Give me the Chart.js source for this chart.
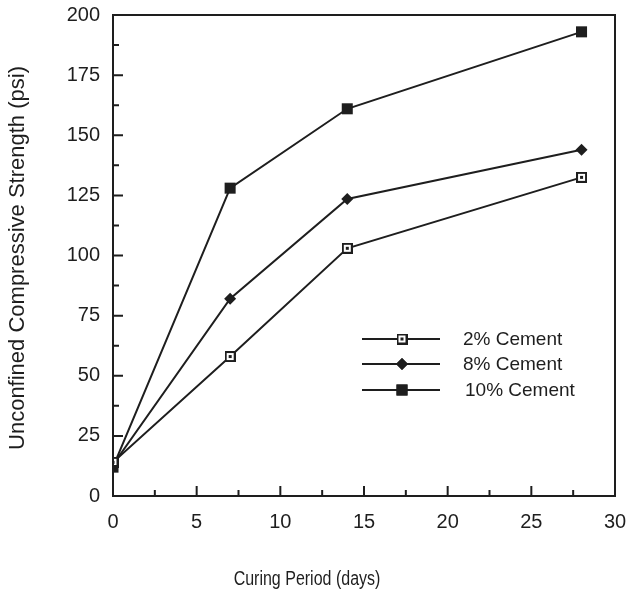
<!DOCTYPE html>
<html>
<head>
<meta charset="utf-8">
<script src="https://cdn.jsdelivr.net/npm/chart.js@4"></script>
<style>
  html, body { margin: 0; padding: 0; background: #fff; }
  #wrap { width: 626px; height: 595px; }
</style>
</head>
<body>
<div id="wrap"><canvas id="strength-chart"></canvas></div>
<script>
// =======================
// Data
// =======================
const days = [0, 7, 14, 28];
const cement2 = [14, 58, 103, 132.5];
const cement8 = [13, 82, 123.5, 144];
const cement10 = [12, 128, 161, 193];
const seriesNames = ["2% Cement", "8% Cement", "10% Cement"];
const yTicks = [0, 25, 50, 75, 100, 125, 150, 175, 200];
const xTicks = [0, 5, 10, 15, 20, 25, 30];

const ink = '#1e1e1e';
const font = "'Liberation Sans', Arial, sans-serif";

// open square with a dot in it
const openSquare = document.createElement('canvas');
openSquare.width = 11;
openSquare.height = 11;
(function () {
    const c = openSquare.getContext('2d');
    c.fillStyle = ink;
    c.fillRect(0, 0, 11, 11);
    c.fillStyle = '#fff';
    c.fillRect(2, 2, 7, 7);
    c.fillStyle = ink;
    c.fillRect(4, 4, 3, 3);
})();

const toPoints = vals => vals.map((v, i) => ({ x: days[i], y: v }));

// =======================
// Box, inward ticks, legend, titles
// =======================
const framePlugin = {
    id: 'frame',
    afterDraw(chart) {
        const ctx = chart.ctx;
        const a = chart.chartArea;
        const xs = chart.scales.x;
        const ys = chart.scales.y;
        ctx.save();
        ctx.strokeStyle = ink;
        ctx.lineWidth = 2;
        ctx.strokeRect(a.left, a.top, a.right - a.left, a.bottom - a.top);

        ctx.beginPath();
        for (let v = 2.5; v < 30; v += 2.5) {
            const px = xs.getPixelForValue(v);
            const len = v % 5 === 0 ? 10 : 6;
            ctx.moveTo(px, a.bottom);
            ctx.lineTo(px, a.bottom - len);
        }
        for (let v = 12.5; v < 200; v += 12.5) {
            const py = ys.getPixelForValue(v);
            const len = v % 25 === 0 ? 10 : 6;
            ctx.moveTo(a.left, py);
            ctx.lineTo(a.left + len, py);
        }
        ctx.stroke();

        // legend
        const rows = [339, 364, 390];
        chart.data.datasets.forEach((ds, i) => {
            const y = rows[i];
            ctx.strokeStyle = ink;
            ctx.lineWidth = 2;
            ctx.beginPath();
            ctx.moveTo(362, y);
            ctx.lineTo(440, y);
            ctx.stroke();
            const style = ds.pointStyle;
            if (style instanceof HTMLCanvasElement) {
                ctx.drawImage(style, 402 - 5.5, y - 5.5);
            } else {
                Chart.helpers.drawPoint(ctx, {
                    pointStyle: style,
                    radius: ds.pointRadius,
                    rotation: 0,
                    borderWidth: 0
                }, 402, y);
                ctx.fillStyle = ink;
                ctx.fill();
            }
            ctx.fillStyle = ink;
            ctx.font = '19px ' + font;
            ctx.textBaseline = 'middle';
            ctx.textAlign = 'left';
            ctx.fillText(ds.label, i === 2 ? 465 : 463, y + 1);
        });

        // x title, drawn a little narrow like the scan
        ctx.save();
        ctx.translate(307, 579);
        ctx.scale(0.8, 1);
        ctx.font = '20px ' + font;
        ctx.textAlign = 'center';
        ctx.textBaseline = 'middle';
        ctx.fillText('Curing Period (days)', 0, 0);
        ctx.restore();

        // y title
        ctx.save();
        ctx.translate(18, 258);
        ctx.rotate(-Math.PI / 2);
        ctx.font = '22px ' + font;
        ctx.textAlign = 'center';
        ctx.textBaseline = 'middle';
        ctx.fillText('Unconfined Compressive Strength (psi)', 0, 0);
        ctx.restore();

        ctx.restore();
    }
};

// =======================
// Chart
// =======================
const strengthCanvas = document.querySelector('#strength-chart');
const lineStyle = {
    borderColor: ink,
    backgroundColor: ink,
    borderWidth: 2,
    tension: 0,
    fill: false,
    pointBorderWidth: 0
};

const noPad = s => {
    s.paddingLeft = 0;
    s.paddingRight = 0;
    s.paddingTop = 0;
    s.paddingBottom = 0;
};

let strengthChart = new Chart(strengthCanvas, {
    type: 'line',
    data: {
        datasets: [
            Object.assign({ label: seriesNames[0], data: toPoints(cement2), pointStyle: openSquare, pointRadius: 5.5 }, lineStyle),
            Object.assign({ label: seriesNames[1], data: toPoints(cement8), pointStyle: 'rectRot', pointRadius: 6 }, lineStyle),
            Object.assign({ label: seriesNames[2], data: toPoints(cement10), pointStyle: 'rect', pointRadius: 7.8 }, lineStyle)
        ]
    },
    options: {
        responsive: true,
        maintainAspectRatio: false,
        animation: { duration: 0 },
        layout: { padding: { top: 15, right: 11, left: 0, bottom: 0 } },
        scales: {
            x: {
                type: 'linear',
                min: 0,
                max: 30,
                afterFit: s => { s.height = 99; noPad(s); },
                afterBuildTicks: s => { s.ticks = xTicks.map(v => ({ value: v })); },
                grid: { display: false, drawTicks: false },
                border: { display: false },
                ticks: {
                    color: ink,
                    padding: 14,
                    maxRotation: 0,
                    font: { size: 20, family: font }
                }
            },
            y: {
                min: 0,
                max: 200,
                afterFit: s => { s.width = 113; noPad(s); },
                afterBuildTicks: s => { s.ticks = yTicks.map(v => ({ value: v })); },
                grid: { display: false, drawTicks: false },
                border: { display: false },
                ticks: {
                    color: ink,
                    padding: 13,
                    font: { size: 20, family: font }
                }
            }
        },
        plugins: {
            legend: { display: false },
            tooltip: { enabled: false }
        }
    },
    plugins: [framePlugin]
});
</script>
</body>
</html>
